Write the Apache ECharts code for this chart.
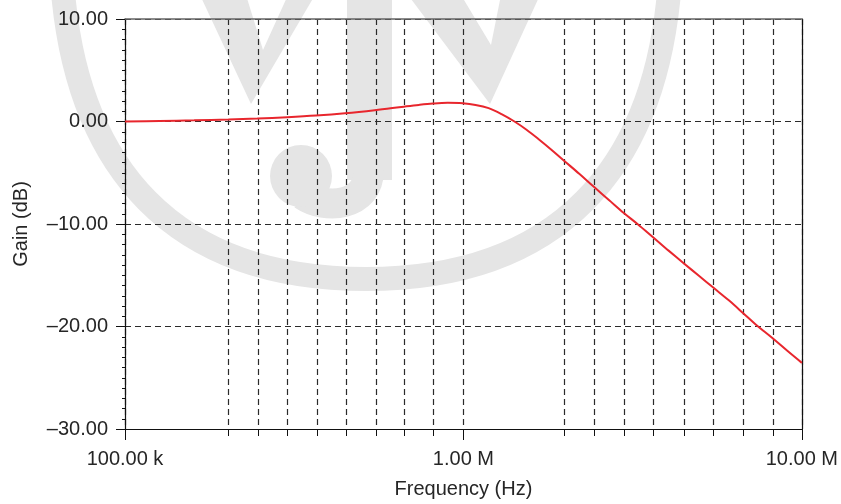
<!DOCTYPE html>
<html>
<head>
<meta charset="utf-8">
<script src="https://cdn.jsdelivr.net/npm/echarts@6/dist/echarts.min.js"></script>
<style>
  html, body { margin: 0; padding: 0; background: #fff; }
  #main { width: 841px; height: 504px; }
</style>
</head>
<body>
<div id="main"></div>
<script>
// frequency response
var freqs = [100000, 126500, 160000, 202000, 246000, 301500, 367000, 447000, 547000, 667000,
  738000, 812000, 898000, 995000, 1086000, 1187000, 1296000, 1415000, 1536000, 1665000,
  1819000, 1987000, 2199000, 2434000, 2696000, 2984000, 3281000, 3633000, 4022000, 4483000,
  4963000, 5495000, 6083000, 6735000, 7304000, 8198000, 9076000, 10000000];
var gains = [0.00, 0.05, 0.12, 0.20, 0.29, 0.42, 0.58, 0.80, 1.10, 1.45,
  1.62, 1.75, 1.82, 1.78, 1.62, 1.30, 0.72, 0.00, -0.80, -1.70,
  -2.75, -3.85, -5.10, -6.40, -7.68, -8.95, -10.05, -11.30, -12.55, -13.85,
  -15.05, -16.25, -17.45, -18.75, -19.80, -21.15, -22.40, -23.55];

// vertical grid lines as they sit in the figure
var gridFreqs = [202500, 247000, 302000, 369000, 451000, 551000, 670000, 816000, 1000000,
  1990000, 2440000, 2980000, 3640000, 4480000, 5490000, 6700000, 8220000];
var majorFreqs = [100000, 1000000, 10000000];
var majorLabels = ['100.00 k', '1.00 M', '10.00 M'];
var tickFreqs = [100000].concat(gridFreqs, [10000000]);

var FONT = 'Liberation Sans';
var WM = '#e5e5e5';

function majorLabel(v) {
  var best = 0;
  for (var i = 1; i < majorFreqs.length; i++) {
    if (Math.abs(Math.log10(v / majorFreqs[i])) < Math.abs(Math.log10(v / majorFreqs[best]))) best = i;
  }
  return majorLabels[best];
}

var myChart = echarts.init(document.getElementById('main'));

var option = {
  animation: false,
  backgroundColor: '#fff',
  graphic: {
    elements: [
      { type: 'bezierCurve', z: -10, silent: true,
        shape: { x1: 62, y1: -20, cpx1: 75, cpy1: 170, cpx2: 175, cpy2: 279, x2: 366, y2: 279 },
        style: { fill: null, stroke: WM, lineWidth: 24 } },
      { type: 'bezierCurve', z: -10, silent: true,
        shape: { x1: 366, y1: 279, cpx1: 557, cpy1: 279, cpx2: 657, cpy2: 170, x2: 670, y2: -20 },
        style: { fill: null, stroke: WM, lineWidth: 24 } },
      { type: 'polygon', z: -10, silent: true,
        shape: { points: [[200, -5], [251, 104], [315, -5], [288, -5], [263, 50], [246, -5]] },
        style: { fill: WM } },
      { type: 'polygon', z: -10, silent: true,
        shape: { points: [[408, -5], [490, 104], [540, -5], [501, -5], [491, 45], [461, -5]] },
        style: { fill: WM } },
      { type: 'rect', z: -10, silent: true,
        shape: { x: 347, y: -5, width: 45, height: 185 },
        style: { fill: WM } },
      { type: 'bezierCurve', z: -10, silent: true,
        shape: { x1: 369, y1: 170, cpx1: 369, cpy1: 207, cpx2: 325, cpy2: 210, x2: 303, y2: 195 },
        style: { fill: null, stroke: WM, lineWidth: 30 } },
      { type: 'circle', z: -10, silent: true,
        shape: { cx: 301, cy: 176, r: 31 },
        style: { fill: WM } }
    ]
  },
  grid: { left: 125, right: 37, top: 19, bottom: 75, containLabel: false },
  xAxis: [
    {
      type: 'log', logBase: 10, min: 100000, max: 10000000, position: 'bottom',
      name: 'Frequency (Hz)', nameLocation: 'middle', nameGap: 50,
      nameTextStyle: { fontFamily: FONT, fontSize: 20, color: '#262626' },
      axisLine: { show: true, onZero: false, lineStyle: { color: '#111', width: 1.2 } },
      axisTick: { show: true, inside: false, length: 7, customValues: tickFreqs,
        lineStyle: { color: '#111', width: 1 } },
      axisLabel: { show: true, margin: 20, customValues: majorFreqs, formatter: majorLabel,
        fontFamily: FONT, fontSize: 20, color: '#262626', showMinLabel: true, showMaxLabel: true },
      splitLine: { show: true, lineStyle: { color: '#2a2a2a', width: 1.2, type: [6, 4] } },
      minorTick: { show: false },
      minorSplitLine: { show: false }
    },
    {
      type: 'log', logBase: 10, min: 100000, max: 10000000, position: 'bottom',
      axisLine: { show: false, onZero: false },
      axisTick: { show: true, length: 11, customValues: majorFreqs,
        lineStyle: { color: '#111', width: 1 } },
      axisLabel: { show: false },
      splitLine: { show: false }
    },
    {
      type: 'log', logBase: 10, min: 100000, max: 10000000, position: 'top',
      axisLine: { show: true, onZero: false, lineStyle: { color: '#666', width: 1.6 } },
      axisTick: { show: false },
      axisLabel: { show: false },
      splitLine: { show: false }
    }
  ],
  yAxis: [
    {
      type: 'value', min: -30, max: 10, interval: 10, position: 'left',
      name: 'Gain (dB)', nameLocation: 'middle', nameGap: 94,
      nameTextStyle: { fontFamily: FONT, fontSize: 20, color: '#262626' },
      axisLine: { show: true, onZero: false, lineStyle: { color: '#111', width: 1.2 } },
      axisTick: { show: true, length: 9, lineStyle: { color: '#111', width: 1 } },
      minorTick: { show: true, splitNumber: 10, length: 3, lineStyle: { color: '#111', width: 1 } },
      axisLabel: {
        margin: 17, fontFamily: FONT, fontSize: 20, color: '#262626',
        formatter: function (v) {
          return v < 0 ? '\u2013' + Math.abs(v).toFixed(2) : v.toFixed(2);
        }
      },
      splitLine: { show: true, lineStyle: { color: '#2a2a2a', width: 1.2, type: [6, 4] } }
    },
    {
      type: 'value', min: -30, max: 10, interval: 10, position: 'right',
      axisLine: { show: true, onZero: false, lineStyle: { color: '#111', width: 1.2 } },
      axisTick: { show: false },
      axisLabel: { show: false },
      splitLine: { show: false }
    }
  ],
  series: [
    {
      name: 'Gain',
      type: 'line',
      xAxisIndex: 0,
      yAxisIndex: 0,
      smooth: 0.35,
      showSymbol: false,
      lineStyle: { color: '#e8262d', width: 2 },
      data: freqs.map(function (f, i) { return [f, gains[i]]; })
    }
  ]
};

myChart.setOption(option);
</script>
</body>
</html>
